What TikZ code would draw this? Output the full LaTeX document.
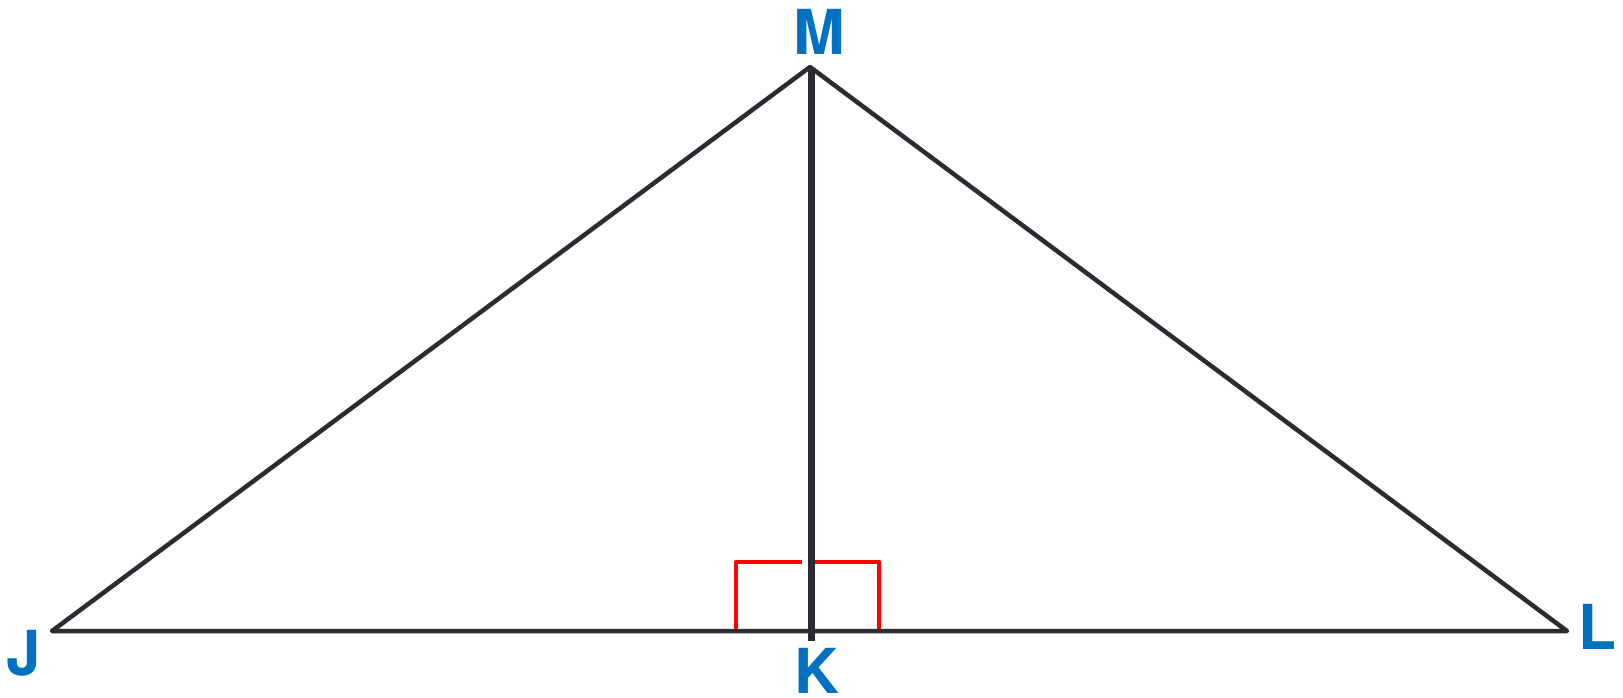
\documentclass[tikz,border=0pt]{standalone}
\usepackage{fontspec}
\setmainfont{TeX Gyre Heros}
\definecolor{edge}{HTML}{2B2B33}
\definecolor{lbl}{HTML}{0070C0}
\definecolor{mark}{HTML}{FF0000}
\tikzset{
  side/.style={draw=edge, line width=4.5pt, line join=round, line cap=round},
  alt/.style={draw=edge, line width=7pt},
  rmark/.style={draw=mark, line width=4pt, line join=round},
  lab/.style={text=lbl, font=\bfseries\fontsize{62}{62}\selectfont, inner sep=0pt},
}
\begin{document}
\begin{tikzpicture}[x=1pt,y=-1pt]
\useasboundingbox (0,0) rectangle (1623,697);
\coordinate (J) at (52,631);
\coordinate (K) at (811,631);
\coordinate (L) at (1567,631);
\coordinate (M) at (810,67);
\coordinate (Kb) at (811,641);
\coordinate (Mt) at (811,70);
\coordinate (r1) at (736,631);
\coordinate (r2) at (736,561.5);
\coordinate (r3) at (802,561.5);
\coordinate (r4) at (813,561.5);
\coordinate (r5) at (879,561.5);
\coordinate (r6) at (879,631);
\draw[rmark] (r1) -- (r2) -- (r3);
\draw[rmark] (r4) -- (r5) -- (r6);
\draw[side] (J) -- (M) -- (L) -- cycle;
\draw[alt] (Mt) -- (Kb);
\node[lab] (lM) at (819,32) {M};
\node[lab] (lJ) at (24,653) {J};
\node[lab] (lK) at (817,671) {K};
\node[lab] (lL) at (1597,627) {L};
\end{tikzpicture}
\end{document}
